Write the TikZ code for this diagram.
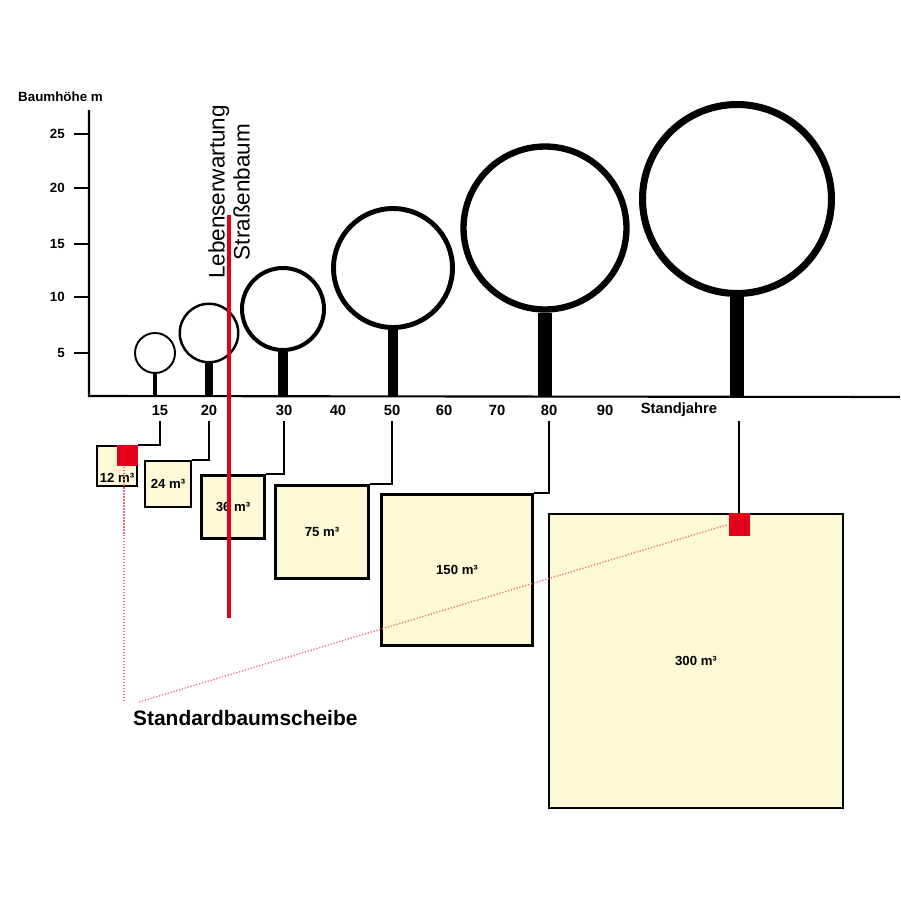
\documentclass[tikz,border=0pt]{standalone}
\usepackage{fontspec}
\setmainfont{Liberation Sans}
\usetikzlibrary{positioning}
\definecolor{boxfill}{HTML}{FDF8D5}
\definecolor{signalred}{HTML}{E2001A}

\begin{document}
\begin{tikzpicture}[x=0.02cm,y=-0.02cm,
    crown/.style={circle,draw,inner sep=0pt},
    trunk/.style={line cap=butt},
    area/.style={draw,fill=boxfill,line width=1.3pt,inner sep=0pt,font=\fontsize{7.5}{9}\selectfont\bfseries},
    link/.style={line width=1.1pt},
    marker/.style={fill=signalred,inner sep=0pt,minimum width=0.42cm},
    hint/.style={signalred!60,line width=0.7pt,densely dotted},
    year/.style={font=\fontsize{8.4}{10}\selectfont\bfseries},
    height/.style={font=\fontsize{7.6}{9}\selectfont\bfseries,anchor=east}]
  \useasboundingbox (0,0) rectangle (900,900);

  % axes
  \coordinate (top) at (89,110);
  \coordinate (o) at (89,396);
  \coordinate (end) at (900,397);
  \draw[line width=1.2pt] (top) -- (o) -- (end);
  \node[font=\fontsize{7.6}{9}\selectfont\bfseries,anchor=west] (ylab) at (12,97) {Baumhöhe m};
  \foreach \h/\y in {5/353,10/297,15/244,20/188,25/134} {
    \draw[line width=0.9pt] (74,\y) -- (89,\y);
    \node[height] (h\h) at (71,\y) {\h};
  }
  \foreach \a/\x in {15/160,20/209,30/284,40/338,50/392,60/444,70/497,80/549,90/605}
    \node[year] (y\a) at (\x,410) {\a};
  \node[year] (yst) at (679,410) {Standjahre};

  % trees
  \node[crown,line width=1.1pt,minimum size=0.80cm] (c15) at (155,353) {};
  \node[crown,line width=1.4pt,minimum size=1.17cm] (c20) at (209,333) {};
  \node[crown,line width=2.3pt,minimum size=1.64cm] (c30) at (283,309) {};
  \node[crown,line width=2.8pt,minimum size=2.38cm] (c50) at (393,268) {};
  \node[crown,line width=3.6pt,minimum size=3.26cm] (c80) at (545,228) {};
  \node[crown,line width=4pt,minimum size=3.78cm] (cst) at (737,199) {};
  \draw[trunk,line width=2.3pt] (c15.south) -- (c15.south |- o);
  \draw[trunk,line width=4pt] (c20.south) -- (c20.south |- o);
  \draw[trunk,line width=5.7pt] (c30.south) -- (c30.south |- o);
  \draw[trunk,line width=6.2pt] (c50.south) -- (c50.south |- o);
  \draw[trunk,line width=7.9pt] (c80.south) -- (c80.south |- o);
  \draw[trunk,line width=7.9pt] (cst.south) -- (cst.south |- o);

  % root space
  \node[area,minimum size=0.80cm] (b12) at (117,466) {};
  \node[area,minimum size=0.93cm] (b24) at (168,484) {24 m³};
  \node[area,minimum size=1.26cm] (b36) at (233,507) {36 m³};
  \node[area,minimum size=1.86cm] (b75) at (322,532) {75 m³};
  \node[area,minimum size=3.02cm] (b150) at (457,570) {150 m³};
  \node[area,minimum size=5.89cm] (b300) at (696,661) {300 m³};
  \node[marker,minimum height=0.42cm,anchor=north east] (r12) at (b12.north east) {};
  \node[font=\fontsize{7.5}{9}\selectfont\bfseries] (l12) at (117,478) {12 m³};

  \draw[link] (y15.south) |- (b12.north east);
  \draw[link] (y20.south) |- (b24.north east);
  \draw[link] (y30.south) |- (b36.north east);
  \draw[link] (y50.south) |- (b75.north east);
  \draw[link] (y80.south) |- (b150.north east);
  \coordinate (s6) at (739,421);
  \draw[link] (s6) -- (s6 |- b300.north);
  \node[marker,minimum height=0.46cm,anchor=north] (r300) at (s6 |- b300.north) {};

  % life expectancy
  \coordinate (lt) at (229,215);
  \coordinate (lb) at (229,618);
  \draw[signalred,line width=1.9pt] (lt) -- (lb);
  \node[rotate=90,align=center,font=\fontsize{12.8}{14.2}\selectfont] (life) at (229,192)
    {Lebenserwartung\\Straßenbaum};

  % standard tree pit
  \coordinate (k1) at (124,702);
  \coordinate (k2) at (139,702);
  \draw[hint] (r12.south -| k1) -- (k1);
  \draw[hint] (k2) -- (r300.west);
  \node[font=\fontsize{11.9}{14}\selectfont\bfseries,anchor=west] (std) at (127,718) {Standardbaumscheibe};
\end{tikzpicture}
\end{document}
